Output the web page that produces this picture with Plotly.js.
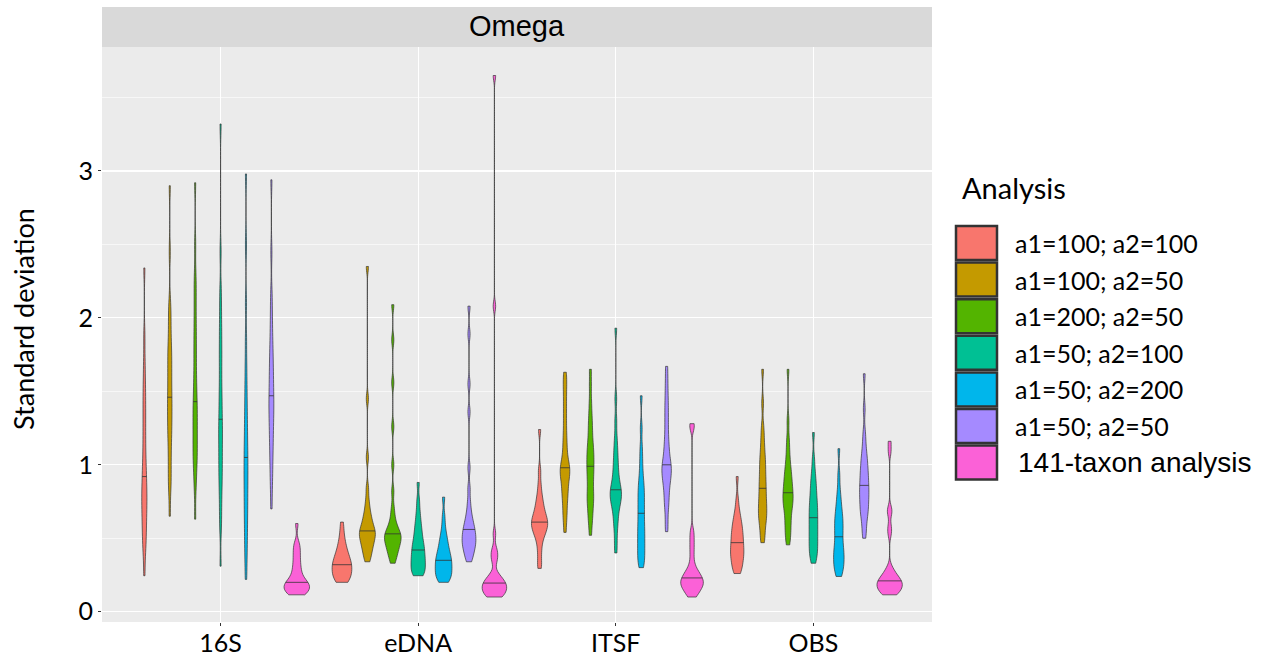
<!DOCTYPE html>
<html><head><meta charset="utf-8">
<script src="https://cdn.plot.ly/plotly-3.0.1.min.js"></script>
<style>html,body{margin:0;padding:0;background:#fff}#chart{width:1274px;height:659px}</style>
</head><body><div id="chart"></div>
<script>
// ---------------- data ----------------
const categories = ['16S', 'eDNA', 'ITSF', 'OBS'];
const analyses = ['a1=100; a2=100', 'a1=100; a2=50', 'a1=200; a2=50', 'a1=50; a2=100', 'a1=50; a2=200', 'a1=50; a2=50', '141-taxon analysis'];
const facetTitle = 'Omega';
const yTitle = 'Standard deviation';
const legendTitle = 'Analysis';
const yTicks = [0, 1, 2, 3];

// standard deviations per analysis (same order as analyses), one list per category
const sd16S = [
  [0.245,0.40,0.46,0.52,0.57,0.62,0.67,0.71,0.75,0.79,0.83,0.87,0.92,0.97,1.03,1.10,1.18,1.26,1.34,1.42,1.50,1.59,1.71,1.88,2.34],
  [0.65,0.82,0.89,0.96,1.04,1.11,1.18,1.23,1.28,1.33,1.38,1.43,1.46,1.53,1.58,1.63,1.69,1.74,1.79,1.85,1.94,2.02,2.10,2.45,2.90],
  [0.63,0.83,0.92,1.00,1.04,1.09,1.14,1.19,1.24,1.29,1.34,1.39,1.43,1.50,1.56,1.64,1.73,1.81,1.90,1.99,2.10,2.20,2.30,2.50,2.92],
  [0.31,0.56,0.66,0.76,0.84,0.91,0.97,1.03,1.09,1.15,1.21,1.26,1.31,1.39,1.45,1.53,1.62,1.71,1.79,1.88,1.97,2.08,2.20,2.45,3.32],
  [0.22,0.34,0.43,0.51,0.58,0.65,0.71,0.77,0.83,0.89,0.94,1.00,1.05,1.11,1.17,1.24,1.31,1.39,1.48,1.58,1.70,1.86,2.10,2.50,2.98],
  [0.70,0.84,0.93,1.01,1.08,1.14,1.20,1.25,1.30,1.35,1.39,1.43,1.47,1.52,1.57,1.62,1.67,1.73,1.79,1.86,1.95,2.05,2.17,2.45,2.94],
  [0.115,0.12,0.127,0.135,0.143,0.151,0.159,0.167,0.175,0.183,0.19,0.196,0.20,0.21,0.23,0.25,0.27,0.295,0.32,0.35,0.38,0.41,0.44,0.47,0.60]
];
const sdEDNA = [
  [0.20,0.208,0.218,0.228,0.238,0.249,0.26,0.272,0.284,0.296,0.306,0.314,0.32,0.335,0.345,0.355,0.37,0.385,0.40,0.42,0.44,0.47,0.50,0.55,0.61],
  [0.34,0.37,0.40,0.42,0.44,0.46,0.475,0.49,0.505,0.52,0.53,0.54,0.55,0.565,0.58,0.60,0.62,0.645,0.67,0.71,0.76,0.84,1.05,1.45,2.35],
  [0.33,0.365,0.39,0.41,0.43,0.445,0.46,0.475,0.49,0.50,0.51,0.52,0.53,0.545,0.56,0.58,0.61,0.65,0.71,0.82,1.00,1.26,1.56,1.85,2.09],
  [0.245,0.25,0.265,0.28,0.295,0.31,0.325,0.34,0.355,0.37,0.385,0.40,0.42,0.435,0.45,0.47,0.49,0.515,0.54,0.57,0.60,0.64,0.69,0.76,0.88],
  [0.20,0.21,0.225,0.24,0.25,0.262,0.275,0.29,0.30,0.315,0.33,0.34,0.35,0.365,0.38,0.395,0.41,0.43,0.45,0.475,0.50,0.53,0.58,0.65,0.78],
  [0.34,0.37,0.395,0.415,0.435,0.45,0.465,0.48,0.495,0.51,0.525,0.54,0.56,0.575,0.595,0.62,0.65,0.69,0.75,0.84,0.98,1.36,1.55,1.89,2.08],
  [0.10,0.10,0.11,0.12,0.13,0.14,0.148,0.156,0.164,0.172,0.18,0.188,0.195,0.205,0.215,0.225,0.24,0.26,0.34,0.37,0.40,0.43,0.53,2.08,3.65]
];
const sdITSF = [
  [0.295,0.34,0.40,0.45,0.49,0.52,0.535,0.55,0.565,0.58,0.593,0.603,0.61,0.625,0.64,0.655,0.67,0.69,0.715,0.74,0.77,0.81,0.87,0.96,1.24],
  [0.54,0.62,0.67,0.72,0.77,0.80,0.835,0.87,0.90,0.925,0.945,0.965,0.98,1.00,1.03,1.07,1.12,1.17,1.23,1.30,1.37,1.44,1.51,1.57,1.63],
  [0.52,0.60,0.645,0.69,0.73,0.76,0.79,0.82,0.86,0.895,0.93,0.96,0.99,1.02,1.05,1.08,1.11,1.145,1.19,1.24,1.29,1.35,1.43,1.54,1.65],
  [0.40,0.48,0.56,0.61,0.655,0.695,0.725,0.745,0.765,0.785,0.80,0.815,0.83,0.85,0.875,0.905,0.94,0.98,1.02,1.07,1.12,1.19,1.30,1.45,1.93],
  [0.30,0.33,0.36,0.39,0.42,0.45,0.48,0.51,0.54,0.57,0.60,0.635,0.67,0.70,0.735,0.77,0.80,0.835,0.87,0.91,0.97,1.04,1.12,1.25,1.47],
  [0.545,0.62,0.70,0.745,0.79,0.83,0.87,0.895,0.92,0.945,0.965,0.985,1.00,1.03,1.06,1.10,1.14,1.19,1.25,1.31,1.37,1.43,1.50,1.58,1.67],
  [0.10,0.118,0.134,0.148,0.16,0.17,0.179,0.187,0.195,0.203,0.211,0.22,0.23,0.24,0.25,0.265,0.28,0.30,0.345,0.40,0.45,0.50,0.55,1.25,1.28]
];
const sdOBS = [
  [0.26,0.28,0.30,0.32,0.34,0.36,0.375,0.39,0.405,0.42,0.435,0.452,0.47,0.488,0.505,0.522,0.54,0.56,0.58,0.60,0.625,0.655,0.69,0.76,0.92],
  [0.47,0.51,0.555,0.60,0.625,0.65,0.675,0.70,0.725,0.75,0.78,0.81,0.84,0.87,0.90,0.935,0.97,1.005,1.04,1.08,1.13,1.19,1.26,1.42,1.65],
  [0.455,0.50,0.54,0.575,0.61,0.645,0.68,0.71,0.73,0.75,0.77,0.79,0.81,0.83,0.855,0.88,0.905,0.935,0.965,1.00,1.05,1.11,1.18,1.30,1.65],
  [0.33,0.365,0.39,0.415,0.44,0.465,0.49,0.515,0.54,0.565,0.59,0.615,0.64,0.665,0.69,0.715,0.74,0.77,0.80,0.835,0.87,0.91,0.96,1.04,1.22],
  [0.24,0.265,0.29,0.31,0.33,0.35,0.37,0.39,0.41,0.43,0.45,0.48,0.51,0.535,0.56,0.585,0.61,0.635,0.66,0.69,0.73,0.77,0.83,0.93,1.11],
  [0.50,0.55,0.60,0.645,0.67,0.695,0.72,0.745,0.77,0.795,0.815,0.835,0.86,0.885,0.91,0.935,0.96,0.99,1.02,1.055,1.09,1.15,1.22,1.38,1.62],
  [0.115,0.12,0.13,0.14,0.15,0.158,0.166,0.174,0.182,0.19,0.197,0.204,0.21,0.22,0.23,0.24,0.255,0.275,0.30,0.53,0.58,0.67,0.70,1.09,1.16]
];
const samplesByCategory = [sd16S, sdEDNA, sdITSF, sdOBS];

// ---------------- styles ----------------
const colors = ['#F8766D', '#C49A00', '#53B400', '#00C094', '#00B6EB', '#A58AFF', '#FB61D7'];
const bandwidths = [
  [0.08, 0.08, 0.08, 0.08, 0.08, 0.08, 0.035],
  [0.045, 0.04, 0.04, 0.04, 0.04, 0.04, 0.035],
  [0.04, 0.05, 0.05, 0.05, 0.05, 0.05, 0.035],
  [0.045, 0.05, 0.05, 0.05, 0.05, 0.05, 0.035]
];
const FONT = 'Lato, "Open Sans", sans-serif';
const ARIAL = '"Liberation Sans", Arial, sans-serif';
const W = 1274, H = 659;
const M = {l: 102, r: 342, t: 47, b: 37};
const pw = W - M.l - M.r, ph = H - M.t - M.b;
const nG = analyses.length;
const slot = 0.9 / nG;          // dodge width / groups
const bdPos = slot / 2;         // violin half width (violingap 0)
const outline = '#333333';

// ---------------- KDE helpers (same gaussian kernel as plotly) ----------------
function makeKDE(vals, h) {
  const f = 1 / (vals.length * h * Math.sqrt(2 * Math.PI));
  return t => { let s = 0; for (const v of vals) { const u = (t - v) / h; s += Math.exp(-0.5 * u * u); } return f * s; };
}
function maxKDE(vals, h) {
  const lo = Math.min(...vals), hi = Math.max(...vals);
  const dist = hi - lo, n = Math.ceil(dist / (h / 3)), step = dist / n;
  const k = makeKDE(vals, h); let m = 0;
  for (let t = lo; t < hi + step / 2; t += step) m = Math.max(m, k(t));
  return m;
}
function median(vals) {
  const s = [...vals].sort((a, b) => a - b), n = s.length, p = (n - 1) / 2;
  const lo = Math.floor(p), hi = Math.ceil(p);
  return s[lo] + (s[hi] - s[lo]) * (p - lo);
}

// ---------------- traces ----------------
const traces = [];
let globalMax = 0;
samplesByCategory.forEach((cat, ci) => cat.forEach((vals, gi) => {
  globalMax = Math.max(globalMax, maxKDE(vals, bandwidths[ci][gi]));
}));
const medX = [], medY = [];
samplesByCategory.forEach((cat, ci) => {
  cat.forEach((vals, gi) => {
    const pos = ci + (gi - (nG - 1) / 2) * slot;
    traces.push({
      type: 'violin',
      x: vals.map(() => pos),
      y: vals,
      name: analyses[gi],
      legendgroup: analyses[gi],
      showlegend: false,
      fillcolor: colors[gi],
      line: {color: outline, width: 0.7},
      bandwidth: bandwidths[ci][gi],
      spanmode: 'hard',
      scalegroup: 'all',
      scalemode: 'count',
      points: false,
      box: {visible: false},
      meanline: {visible: false},
      hoveron: 'violins',
      opacity: 1
    });
    const med = median(vals);
    const hw = bdPos * makeKDE(vals, bandwidths[ci][gi])(med) / globalMax;
    medX.push(pos - hw, pos + hw, null);
    medY.push(med, med, null);
  });
});
traces.push({
  type: 'scatter', mode: 'lines', x: medX, y: medY,
  line: {color: outline, width: 0.8}, hoverinfo: 'skip', showlegend: false
});

// ---------------- layout ----------------
const px = x => (x - M.l) / pw;
const py = y => (H - M.b - y) / ph;
const shapes = [{
  type: 'rect', xref: 'paper', yref: 'paper', x0: 0, x1: 1,
  ysizemode: 'pixel', yanchor: 1, y0: 0, y1: 40,
  fillcolor: '#D9D9D9', line: {width: 0}
}];
const annotations = [{
  text: facetTitle, xref: 'paper', yref: 'paper', x: 0.5, y: 1, yanchor: 'middle', yshift: 21,
  showarrow: false, font: {family: ARIAL, size: 29, color: '#000'}
}, {
  text: yTitle, xref: 'paper', yref: 'paper', x: px(23), y: py(319), xanchor: 'center', yanchor: 'middle',
  textangle: -90, showarrow: false, font: {family: FONT, size: 27, color: '#000'}
}, {
  text: legendTitle, xref: 'paper', yref: 'paper', x: px(960), y: py(187), xanchor: 'left', yanchor: 'middle',
  showarrow: false, font: {family: FONT, size: 29, color: '#000'}
}];
const keyTop = 225, keyPitch = 36.6, keyH = 35;
analyses.forEach((a, gi) => {
  const top = keyTop + gi * keyPitch;
  shapes.push({
    type: 'rect', xref: 'paper', yref: 'paper', x0: px(956), x1: px(997), y0: py(top + 1), y1: py(top + keyH),
    fillcolor: colors[gi], line: {color: outline, width: 2.5}
  });
  const last = gi === nG - 1;
  annotations.push({
    text: a, xref: 'paper', yref: 'paper', x: px(last ? 1016 : 1013), y: py(top + keyH / 2 + 0.5),
    xanchor: 'left', yanchor: 'middle', showarrow: false,
    font: last ? {family: ARIAL, size: 28, color: '#000'} : {family: FONT, size: 25, color: '#000'}
  });
});

const layout = {
  width: W, height: H, margin: M,
  paper_bgcolor: '#ffffff', plot_bgcolor: '#EBEBEB',
  violinmode: 'overlay', violingap: 0, violingroupgap: 0,
  showlegend: false,
  font: {family: FONT, color: '#000'},
  xaxis: {
    range: [-0.6, 3.6], tickmode: 'array', tickvals: categories.map((c, i) => i), ticktext: categories,
    showgrid: true, gridcolor: '#ffffff', gridwidth: 1.2, zeroline: false, showline: false,
    ticks: 'outside', ticklen: 3, tickwidth: 1, tickcolor: '#333333', ticklabelstandoff: -4,
    tickfont: {family: FONT, size: 25, color: '#000'}, fixedrange: true
  },
  yaxis: {
    range: [-0.07, 3.844], tickmode: 'array', tickvals: yTicks,
    showgrid: true, gridcolor: '#ffffff', gridwidth: 1.2, zeroline: false, showline: false,
    ticks: 'outside', ticklen: 3, tickwidth: 1, tickcolor: '#333333',
    tickfont: {family: FONT, size: 25, color: '#000'},
    minor: {tickvals: [0.5, 1.5, 2.5, 3.5], showgrid: true, gridcolor: '#ffffff', gridwidth: 0.6, ticks: ''},
    fixedrange: true
  },
  shapes: shapes,
  annotations: annotations
};

Plotly.newPlot('chart', traces, layout, {displayModeBar: false, staticPlot: true});
</script>
</body></html>
